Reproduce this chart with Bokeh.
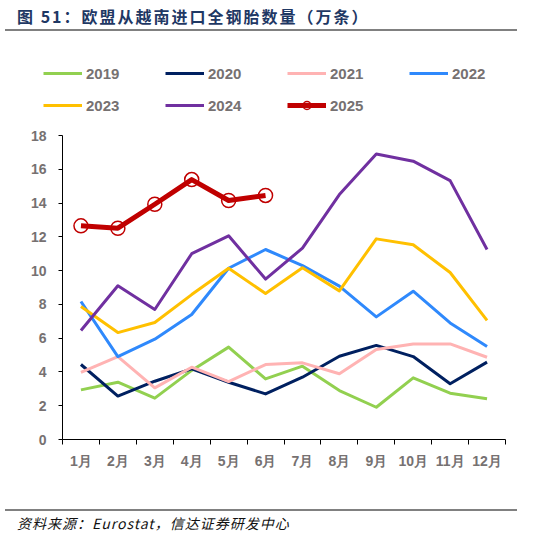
from bokeh.embed import file_html
from bokeh.layouts import column
from bokeh.models import Div, FixedTicker, Legend, LegendItem
from bokeh.plotting import figure
from bokeh.resources import INLINE

months = ["1月", "2月", "3月", "4月", "5月", "6月", "7月", "8月", "9月", "10月", "11月", "12月"]
month_idx = list(range(1, 13))

v2019 = [2.94, 3.39, 2.45, 4.09, 5.47, 3.59, 4.34, 2.90, 1.91, 3.65, 2.74, 2.41]
v2020 = [4.44, 2.57, 3.45, 4.18, 3.39, 2.70, 3.69, 4.93, 5.57, 4.91, 3.30, 4.58]
v2021 = [3.98, 4.91, 3.06, 4.28, 3.43, 4.44, 4.54, 3.89, 5.33, 5.66, 5.66, 4.87]
v2022 = [8.17, 4.91, 5.94, 7.40, 10.14, 11.25, 10.30, 9.08, 7.26, 8.78, 6.90, 5.50]
v2023 = [7.87, 6.33, 6.93, 8.58, 10.14, 8.64, 10.17, 8.80, 11.88, 11.53, 9.89, 7.05]
v2024 = [6.45, 9.10, 7.70, 11.00, 12.06, 9.50, 11.33, 14.50, 16.90, 16.48, 15.33, 11.25]
v2025 = [12.65, 12.51, 13.93, 15.39, 14.15, 14.45]

series = [
    ("2019", v2019, "#92d050"),
    ("2020", v2020, "#002060"),
    ("2021", v2021, "#ffb3b3"),
    ("2022", v2022, "#2f89fc"),
    ("2023", v2023, "#ffc000"),
    ("2024", v2024, "#7030a0"),
]
red = "#c00000"

grey = "#767171"
num_font = "Liberation Sans"

# main chart
p = figure(width=538, height=384, x_range=(0.5, 12.5), y_range=(0, 18),
           output_backend="svg", toolbar_location=None, frame_align=False,
           min_border_left=62, min_border_right=33, min_border_top=10, min_border_bottom=70)
p.outline_line_color = None
p.grid.visible = False
p.background_fill_color = None
p.border_fill_color = None

# x axis: labels at month centres, ticks between months
p.xaxis.ticker = FixedTicker(ticks=month_idx, minor_ticks=[i + 0.5 for i in range(13)])
p.xaxis.major_label_overrides = {i: m for i, m in zip(month_idx, months)}
p.xaxis.major_tick_out = 5
p.xaxis.major_tick_in = 0
p.xaxis.minor_tick_line_color = "black"
p.xaxis.minor_tick_out = 5
p.xaxis.minor_tick_in = 0
p.xaxis.major_label_standoff = 8

p.yaxis.ticker = FixedTicker(ticks=list(range(0, 19, 2)))
p.yaxis.minor_tick_line_color = None
p.yaxis.major_tick_in = 0
p.yaxis.major_tick_out = 4
p.yaxis.major_label_standoff = 12

for ax in (p.xaxis, p.yaxis):
    ax.axis_line_color = "black"
    ax.major_label_text_font = num_font
    ax.major_label_text_font_style = "bold"
    ax.major_label_text_font_size = "14px"
    ax.major_label_text_color = grey
p.yaxis.major_tick_line_color = "black"
p.xaxis.major_tick_line_color = None

for name, vals, color in series:
    p.line(month_idx[:len(vals)], vals, line_color=color, line_width=3, line_join="round")
p.line(month_idx[:len(v2025)], v2025, line_color=red, line_width=5, line_join="round")
p.scatter(month_idx[:len(v2025)], v2025, size=14, marker="circle",
          fill_color=None, line_color=red, line_width=1.5)

# legend strip above the chart; its own figure so the legend is not clipped by the chart frame.
# The proxy renderers carry the same series but fall outside this strip's ranges.
lg = figure(width=538, height=94, x_range=(0, 1), y_range=(0, 1),
            output_backend="svg", toolbar_location=None, frame_align=False,
            x_axis_location=None, y_axis_location=None,
            min_border_left=0, min_border_right=0, min_border_top=0, min_border_bottom=0)
lg.outline_line_color = None
lg.grid.visible = False
lg.background_fill_color = None
lg.border_fill_color = None

items = []
for name, vals, color in series:
    r = lg.line(month_idx[:len(vals)], vals, line_color=color, line_width=3)
    items.append(LegendItem(label=name, renderers=[r]))
r25 = lg.line(month_idx[:len(v2025)], v2025, line_color=red, line_width=5)
m25 = lg.scatter(month_idx[:len(v2025)], v2025, size=10, marker="circle",
                 fill_color=None, line_color=red, line_width=1.5)
items.append(LegendItem(label="2025", renderers=[r25, m25]))

legend = Legend(items=items, location=(43, 4), orientation="horizontal", ncols=4,
                glyph_width=39, glyph_height=20, label_height=32, label_width=79,
                label_standoff=4, spacing=0, padding=0, margin=0,
                border_line_color=None, background_fill_alpha=0,
                label_text_font=num_font, label_text_font_style="bold",
                label_text_font_size="15px", label_text_color=grey)
lg.add_layout(legend, "center")

title = Div(text="图 51：欧盟从越南进口全钢胎数量（万条）", width=512, height=31, margin=(0, 21, 0, 5),
            styles={"font-family": "'Noto Sans CJK SC'", "font-size": "16px", "font-weight": "bold",
                    "letter-spacing": "2px", "color": "#1f3864",
                    "border-bottom": "2px solid #808080", "padding-left": "12px",
                    "padding-top": "6px", "box-sizing": "border-box", "line-height": "20px"})

source = Div(text="资料来源：Eurostat，信达证券研发中心", width=512, height=29, margin=(0, 21, 0, 5),
             styles={"font-family": "'Noto Sans CJK SC'", "font-size": "14px", "font-style": "italic",
                     "letter-spacing": "1px", "color": "#111111",
                     "border-top": "2px solid #808080", "padding-left": "12px",
                     "padding-top": "3px", "box-sizing": "border-box", "line-height": "18px"})

page = column(title, lg, p, source, spacing=0)
open("out.html", "w").write(file_html(page, INLINE))
